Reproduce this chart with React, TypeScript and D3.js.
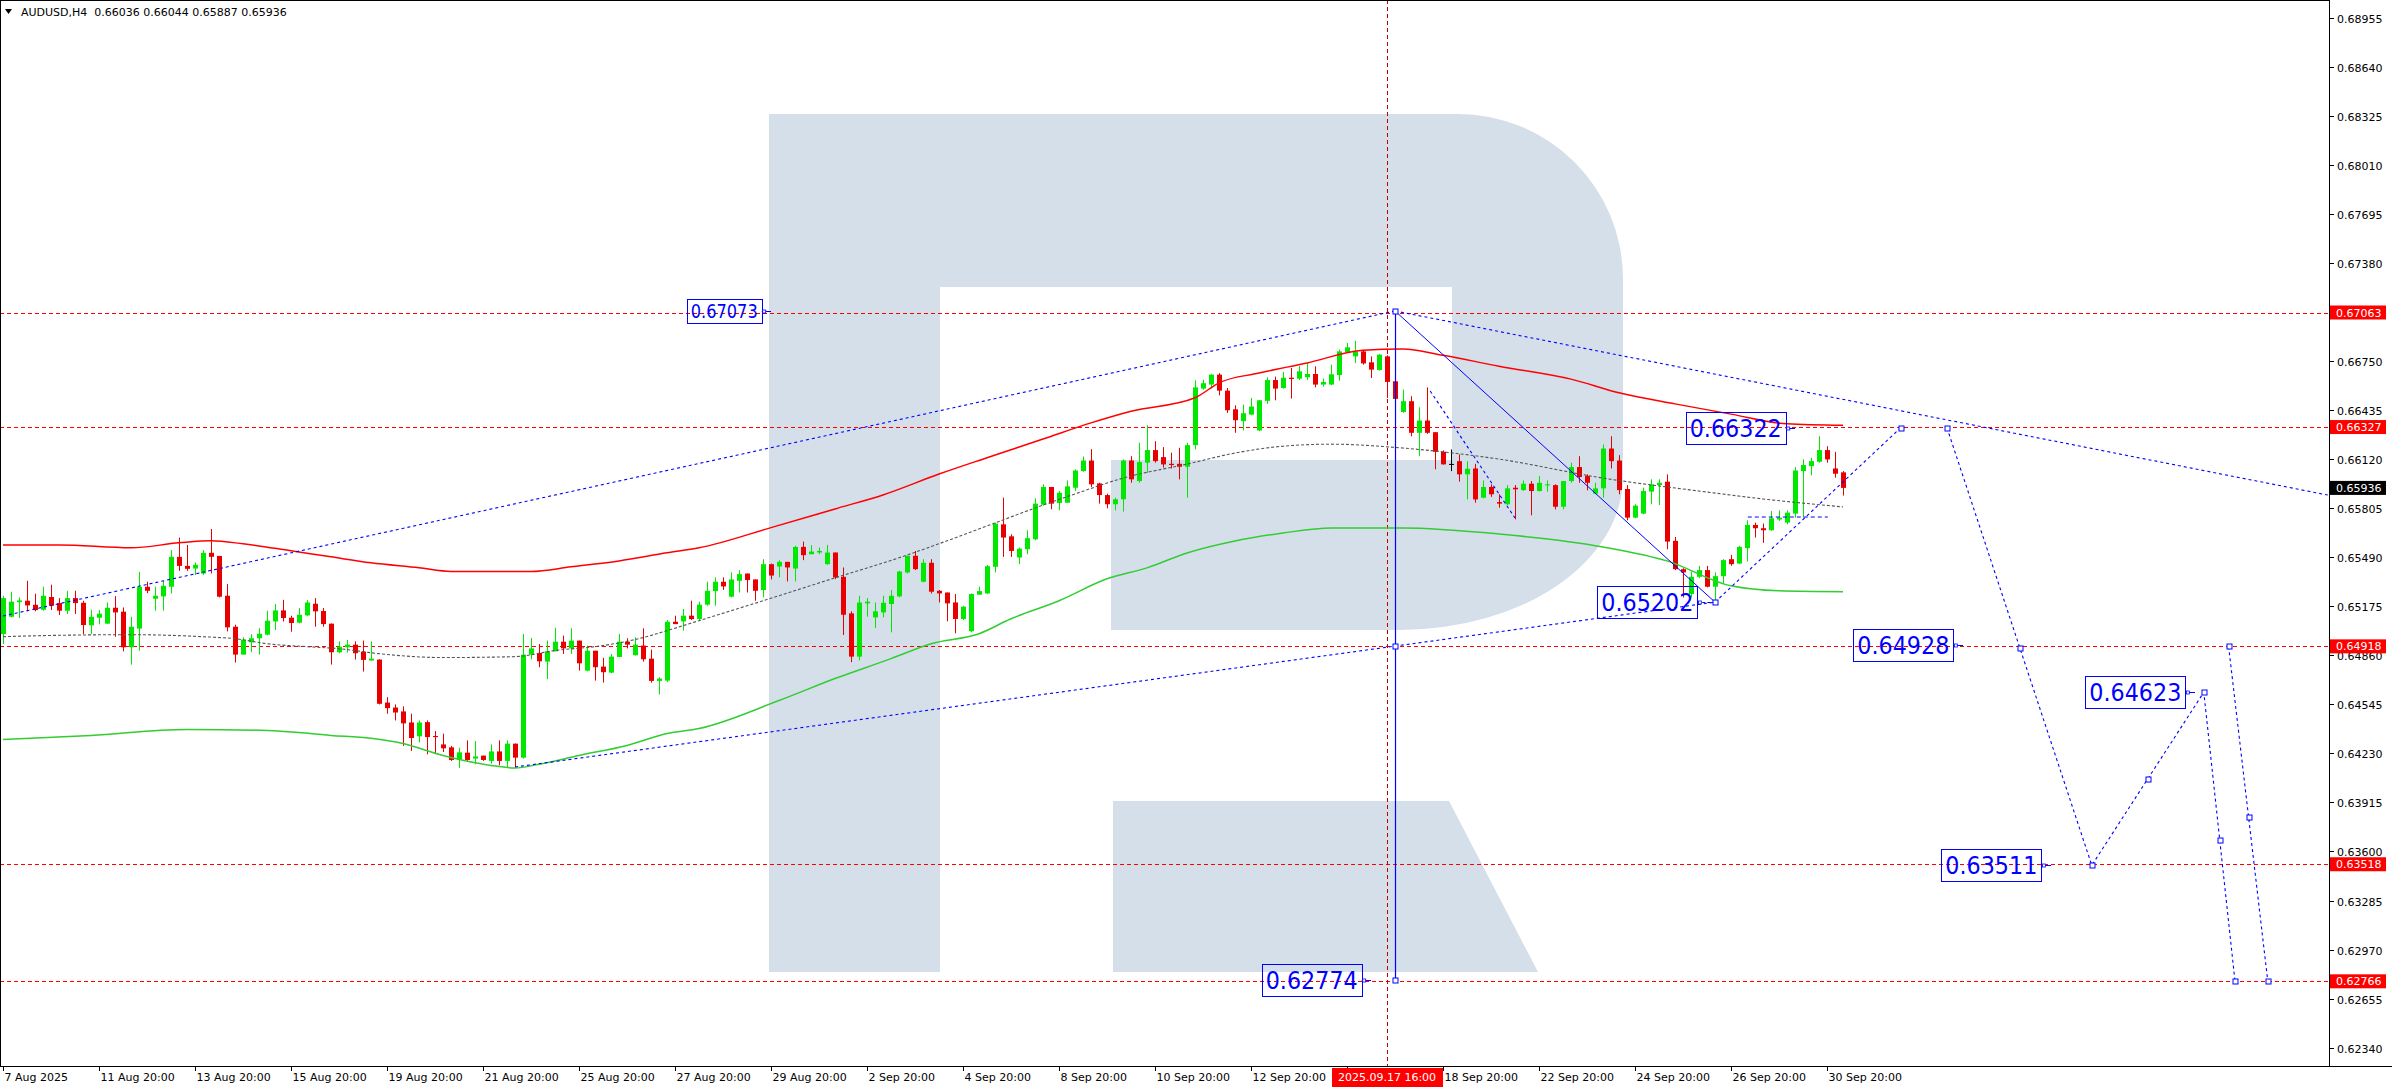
import React from "react";
import * as d3 from "d3";

// ---------- data (AUDUSD H4, bar 0 = 7 Aug 2025 20:00) ----------
const opens = [
  0.64997,0.65108,0.65202,0.65211,0.65185,0.65153,0.65235,0.65196,0.65147,0.65228,
  0.65198,0.65053,0.65102,0.65064,0.65166,0.65141,0.64912,0.65032,0.65301,0.65224,
  0.65239,0.65301,0.65493,0.65435,0.65418,0.65386,0.65519,0.65499,0.65243,0.65044,
  0.64865,0.64944,0.64970,0.64993,0.65078,0.65149,0.65102,0.65070,0.65117,0.65192,
  0.65145,0.65064,0.64880,0.64912,0.64929,0.64884,0.64827,0.64833,0.64557,0.64525,
  0.64500,0.64429,0.64340,0.64431,0.64342,0.64288,0.64269,0.64188,0.64235,0.64197,
  0.64216,0.64182,0.64243,0.64182,0.64293,0.64203,0.64865,0.64876,0.64820,0.64886,
  0.64948,0.64905,0.64955,0.64762,0.64890,0.64788,0.64749,0.64850,0.64948,0.64861,
  0.64923,0.64839,0.64696,0.64698,0.65076,0.65078,0.65115,0.65094,0.65186,0.65273,
  0.65333,0.65237,0.65339,0.65386,0.65348,0.65280,0.65446,0.65431,0.65461,0.65418,
  0.65557,0.65510,0.65521,0.65446,0.65521,0.65365,0.65130,0.64852,0.65194,0.65104,
  0.65136,0.65190,0.65239,0.65393,0.65500,0.65333,0.65455,0.65275,0.65264,0.65200,
  0.65094,0.65015,0.65250,0.65258,0.65429,0.65702,0.65625,0.65489,0.65542,0.65606,
  0.65828,0.65942,0.65839,0.65841,0.65937,0.66044,0.66112,0.65965,0.65890,0.65831,
  0.65863,0.66112,0.65980,0.66098,0.66179,0.66134,0.66091,0.66091,0.66072,0.66211,
  0.66574,0.66600,0.66664,0.66561,0.66441,0.66365,0.66407,0.66305,0.66495,0.66629,
  0.66578,0.66644,0.66638,0.66647,0.66668,0.66600,0.66600,0.66661,0.66809,0.66781,
  0.66813,0.66743,0.66694,0.66781,0.66621,0.66424,0.66493,0.66290,0.66369,0.66294,
  0.66168,0.66087,0.66108,0.66023,0.66061,0.65873,0.65942,0.65845,0.65831,0.65937,
  0.65922,0.65963,0.65916,0.65952,0.65954,0.65815,0.65980,0.66070,0.66012,0.65899,
  0.65933,0.66189,0.66112,0.65929,0.65745,0.65771,0.65912,0.65954,0.65976,0.65596,
  0.65414,0.65254,0.65365,0.65408,0.65301,0.65369,0.65478,0.65450,0.65549,0.65698,
  0.65677,0.65664,0.65733,0.65713,0.65771,0.66044,0.66076,0.66104,0.66179,0.66061,
  0.66036,
];
const highs = [
  0.65243,0.65269,0.65232,0.65339,0.65256,0.65301,0.65314,0.65228,0.65275,0.65275,
  0.65211,0.65153,0.65151,0.65200,0.65241,0.65168,0.65108,0.65397,0.65333,0.65301,
  0.65339,0.65536,0.65617,0.65570,0.65457,0.65536,0.65672,0.65499,0.65318,0.65057,
  0.64976,0.64997,0.65034,0.65147,0.65190,0.65217,0.65115,0.65164,0.65215,0.65228,
  0.65164,0.65064,0.64950,0.64959,0.64950,0.64955,0.64950,0.64835,0.64592,0.64545,
  0.64532,0.64485,0.64442,0.64442,0.64374,0.64357,0.64278,0.64267,0.64314,0.64310,
  0.64216,0.64288,0.64314,0.64314,0.64293,0.64997,0.64972,0.64933,0.64955,0.65038,
  0.64987,0.65034,0.64955,0.64923,0.64890,0.64844,0.64869,0.64997,0.64970,0.64976,
  0.65034,0.64897,0.64720,0.65087,0.65115,0.65158,0.65211,0.65205,0.65333,0.65361,
  0.65361,0.65393,0.65408,0.65386,0.65348,0.65478,0.65450,0.65472,0.65461,0.65564,
  0.65591,0.65568,0.65553,0.65570,0.65521,0.65425,0.65143,0.65243,0.65228,0.65200,
  0.65243,0.65280,0.65403,0.65500,0.65531,0.65478,0.65478,0.65280,0.65264,0.65254,
  0.65179,0.65258,0.65301,0.65440,0.65713,0.65873,0.65638,0.65553,0.65664,0.65869,
  0.65959,0.65942,0.65916,0.65984,0.66055,0.66138,0.66185,0.65969,0.65899,0.65873,
  0.66119,0.66140,0.66226,0.66339,0.66236,0.66198,0.66162,0.66194,0.66226,0.66627,
  0.66632,0.66668,0.66674,0.66578,0.66467,0.66471,0.66514,0.66501,0.66647,0.66651,
  0.66681,0.66706,0.66719,0.66738,0.66717,0.66638,0.66728,0.66824,0.66867,0.66881,
  0.66824,0.66781,0.66796,0.66788,0.66621,0.66567,0.66525,0.66454,0.66582,0.66294,
  0.66177,0.66183,0.66151,0.66108,0.66091,0.65984,0.65959,0.65895,0.65954,0.65954,
  0.65984,0.65980,0.66012,0.65984,0.65959,0.65980,0.66098,0.66140,0.66023,0.65969,
  0.66215,0.66268,0.66147,0.65954,0.65831,0.65937,0.65991,0.65991,0.66023,0.65621,
  0.65420,0.65399,0.65435,0.65435,0.65393,0.65478,0.65506,0.65564,0.65728,0.65713,
  0.65707,0.65788,0.65792,0.65792,0.66070,0.66119,0.66130,0.66268,0.66204,0.66168,
  0.66044,
];
const lows = [
  0.64933,0.65104,0.65100,0.65147,0.65143,0.65147,0.65151,0.65119,0.65126,0.65126,
  0.64997,0.64997,0.65059,0.65061,0.64980,0.64886,0.64801,0.64890,0.65260,0.65147,
  0.65147,0.65258,0.65403,0.65403,0.65377,0.65377,0.65386,0.65232,0.65014,0.64814,
  0.64865,0.64880,0.64865,0.64989,0.65023,0.65078,0.65012,0.65066,0.65113,0.65044,
  0.65044,0.64801,0.64874,0.64878,0.64833,0.64756,0.64827,0.64545,0.64485,0.64442,
  0.64278,0.64246,0.64301,0.64224,0.64228,0.64239,0.64182,0.64137,0.64182,0.64160,
  0.64182,0.64165,0.64154,0.64137,0.64143,0.64197,0.64835,0.64784,0.64707,0.64886,
  0.64869,0.64869,0.64762,0.64758,0.64698,0.64685,0.64745,0.64848,0.64905,0.64859,
  0.64820,0.64685,0.64609,0.64688,0.65061,0.65019,0.65087,0.65087,0.65179,0.65179,
  0.65280,0.65233,0.65264,0.65264,0.65211,0.65233,0.65348,0.65361,0.65335,0.65335,
  0.65472,0.65510,0.65510,0.65442,0.65350,0.64991,0.64816,0.64827,0.65109,0.65036,
  0.65104,0.65008,0.65233,0.65386,0.65408,0.65329,0.65258,0.65200,0.65079,0.65002,
  0.65087,0.65008,0.65250,0.65254,0.65393,0.65493,0.65493,0.65446,0.65510,0.65600,
  0.65822,0.65799,0.65792,0.65839,0.65916,0.66040,0.65942,0.65835,0.65805,0.65792,
  0.65784,0.65969,0.65969,0.66033,0.66098,0.66066,0.66061,0.65991,0.65873,0.66183,
  0.66567,0.66574,0.66531,0.66418,0.66290,0.66305,0.66403,0.66300,0.66476,0.66499,
  0.66574,0.66510,0.66629,0.66629,0.66582,0.66587,0.66595,0.66625,0.66803,0.66738,
  0.66728,0.66642,0.66689,0.66514,0.66503,0.66418,0.66268,0.66140,0.66283,0.66055,
  0.66087,0.66044,0.65976,0.65862,0.65841,0.65869,0.65878,0.65809,0.65826,0.65734,
  0.65916,0.65760,0.65912,0.65912,0.65798,0.65798,0.65969,0.65969,0.65920,0.65895,
  0.65873,0.66061,0.65895,0.65728,0.65741,0.65767,0.65831,0.65826,0.65542,0.65408,
  0.65232,0.65232,0.65356,0.65297,0.65211,0.65318,0.65435,0.65446,0.65463,0.65617,
  0.65583,0.65660,0.65724,0.65702,0.65745,0.65745,0.66017,0.66098,0.66098,0.66002,
  0.65887,
];
const closes = [
  0.65228,0.65205,0.65213,0.65181,0.65151,0.65243,0.65179,0.65147,0.65228,0.65196,
  0.65055,0.65108,0.65128,0.65166,0.65136,0.64912,0.65044,0.65301,0.65275,0.65243,
  0.65307,0.65493,0.65435,0.65416,0.65442,0.65519,0.65493,0.65237,0.65040,0.64865,
  0.64961,0.64970,0.64999,0.65083,0.65149,0.65100,0.65068,0.65121,0.65200,0.65143,
  0.65061,0.64880,0.64916,0.64929,0.64874,0.64831,0.64839,0.64549,0.64521,0.64493,
  0.64423,0.64329,0.64429,0.64335,0.64335,0.64263,0.64188,0.64237,0.64188,0.64211,
  0.64188,0.64243,0.64182,0.64293,0.64203,0.64865,0.64905,0.64822,0.64886,0.64948,
  0.64905,0.64955,0.64809,0.64890,0.64784,0.64752,0.64852,0.64948,0.64929,0.64929,
  0.64835,0.64696,0.64711,0.65076,0.65061,0.65115,0.65093,0.65186,0.65275,0.65333,
  0.65303,0.65348,0.65382,0.65344,0.65275,0.65446,0.65373,0.65461,0.65425,0.65557,
  0.65504,0.65527,0.65531,0.65521,0.65361,0.65121,0.64852,0.65200,0.65205,0.65143,
  0.65198,0.65243,0.65399,0.65500,0.65414,0.65455,0.65269,0.65258,0.65194,0.65094,
  0.65173,0.65254,0.65273,0.65433,0.65707,0.65617,0.65531,0.65546,0.65613,0.65835,
  0.65942,0.65835,0.65905,0.65946,0.66048,0.66112,0.65959,0.65890,0.65831,0.65863,
  0.66112,0.65991,0.66102,0.66179,0.66108,0.66087,0.66083,0.66072,0.66211,0.66582,
  0.66609,0.66664,0.66561,0.66435,0.66371,0.66416,0.66459,0.66499,0.66629,0.66574,
  0.66644,0.66636,0.66685,0.66668,0.66600,0.66617,0.66666,0.66813,0.66839,0.66813,
  0.66736,0.66696,0.66792,0.66617,0.66508,0.66493,0.66290,0.66369,0.66290,0.66168,
  0.66087,0.66087,0.66023,0.66059,0.65862,0.65942,0.65895,0.65835,0.65933,0.65927,
  0.65963,0.65916,0.65969,0.65959,0.65815,0.65980,0.66070,0.66006,0.65969,0.65933,
  0.66189,0.66108,0.65922,0.65745,0.65822,0.65916,0.65959,0.65969,0.65591,0.65414,
  0.65393,0.65365,0.65408,0.65301,0.65369,0.65472,0.65446,0.65557,0.65698,0.65677,
  0.65664,0.65741,0.65745,0.65777,0.66048,0.66083,0.66108,0.66179,0.66119,0.66027,
  0.65936,
];

// indicator lines (bar index, value) read at sample bars
const upperBandBars = [0,7,16,22,26,30,36,41,46,52,56,66,71,77,83,87,96,104,110,117,123,130,136,141,149,152,157,163,170,175,180,187,196,202,209,216,223,230];
const upperBandVals = [0.65570,0.65570,0.65551,0.65583,0.65596,0.65577,0.65532,0.65493,0.65455,0.65423,0.65399,0.65399,0.65429,0.65467,0.65519,0.65551,0.65681,0.65801,0.65891,0.66025,0.66130,0.66250,0.66354,0.66429,0.66515,0.66611,0.66674,0.66739,0.66820,0.66829,0.66788,0.66718,0.66635,0.66547,0.66476,0.66410,0.66348,0.66338];
const lowerBandBars = [0,11,23,33,41,46,50,55,61,64,67,72,78,83,87,97,104,111,116,122,126,132,138,143,148,154,160,166,175,187,200,208,216,222,230];
const lowerBandVals = [0.64320,0.64346,0.64384,0.64378,0.64346,0.64328,0.64294,0.64217,0.64153,0.64136,0.64160,0.64217,0.64281,0.64358,0.64390,0.64570,0.64711,0.64839,0.64935,0.64999,0.65095,0.65211,0.65352,0.65422,0.65518,0.65595,0.65646,0.65679,0.65679,0.65640,0.65557,0.65467,0.65307,0.65275,0.65269];
const midLineBars = [0,5,16,25,29,33,38,42,47,55,64,69,75,80,83,87,95,104,112,118,124,129,134,140,148,154,160,166,175,187,200,212,220,230];
const midLineVals = [0.64980,0.64987,0.64993,0.64980,0.64967,0.64935,0.64916,0.64903,0.64871,0.64846,0.64852,0.64891,0.64923,0.64974,0.65019,0.65083,0.65211,0.65358,0.65487,0.65596,0.65711,0.65807,0.65897,0.65999,0.66089,0.66160,0.66204,0.66217,0.66192,0.66121,0.65999,0.65916,0.65865,0.65814];

// axes
const timeTickBars = [0,12,24,36,48,60,72,84,96,108,120,132,144,156,168,180,192,204,216,228];
const timeTickLabels = ["7 Aug 2025","11 Aug 20:00","13 Aug 20:00","15 Aug 20:00","19 Aug 20:00","21 Aug 20:00","25 Aug 20:00","27 Aug 20:00","29 Aug 20:00","2 Sep 20:00","4 Sep 20:00","8 Sep 20:00","10 Sep 20:00","12 Sep 20:00","16 Sep 20:00","18 Sep 20:00","22 Sep 20:00","24 Sep 20:00","26 Sep 20:00","30 Sep 20:00"];
const priceTicks = [0.68955,0.68640,0.68325,0.68010,0.67695,0.67380,0.67065,0.66750,0.66435,0.66120,0.65805,0.65490,0.65175,0.64860,0.64545,0.64230,0.63915,0.63600,0.63285,0.62970,0.62655,0.62340];
const levelPrices = [0.67063, 0.66327, 0.64918, 0.63518, 0.62766];
const lastPrice = 0.65936;
const markerBar = 173;
const markerLabel = "2025.09.17 16:00";
const headerText = "AUDUSD,H4  0.66036 0.66044 0.65887 0.65936";

// analysis objects
const boxTexts = ["0.67073","0.66322","0.65202","0.64928","0.64623","0.63511","0.62774"];
const boxPrices = [0.67073,0.66322,0.65202,0.64928,0.64623,0.63511,0.62774];
const boxRightBars = [94.84,222.84,211.79,243.79,272.79,254.79,169.84];
const boxLinkBars = [96,224,214,245,274,256,171];
const trendFromBars = [0,174,64,178.4];
const trendFromPrices = [0.65113,0.67073,0.64143,0.66559];
const trendToBars = [174,290.6,214,189];
const trendToPrices = [0.67073,0.65890,0.65202,0.65743];
const waveBars = [174,214];
const wavePrices = [0.67073,0.65202];
const pivotBar = 174;
const pivotPrices = [0.67073,0.64918,0.62774];
const forecastBarsA = [214,237.2];
const forecastPricesA = [0.65202,0.66322];
const forecastBarsB = [243,261.1,275.1,279];
const forecastPricesB = [0.66322,0.63511,0.64623,0.62766];
const forecastBarsC = [278.2,283.1];
const forecastPricesC = [0.64918,0.62766];
const forecastMidBars = [252.1,268.1,277.1,280.7];
const rangeBars = [218.1,228.1];
const rangePrice = 0.65749;

const FONT = "'DejaVu Sans', Verdana, sans-serif";
const BULL = "#00e800";
const BEAR = "#e80000";
const BLUE = "#0000ff";

export default function App() {
  const x = d3.scaleLinear().domain([0, 230]).range([3, 1843]);
  const y = d3.scaleLinear().domain([0.67063, 0.62766]).range([312.5, 981.3]);
  const R = 2329, B = 1066;

  const curve = (bars: number[], vals: number[]) =>
    d3.line<number>().x((_, i) => x(bars[i])).y((v) => y(v)).curve(d3.curveMonotoneX)(vals) || "";
  const poly = (bars: number[], vals: number[]) =>
    d3.line<number>().x((_, i) => x(bars[i])).y((v) => y(v))(vals) || "";

  const sq = (cx: number, cy: number, k: string) => (
    <rect key={k} x={Math.round(cx) - 2} y={Math.round(cy) - 2} width={5} height={5} fill="#fff" stroke={BLUE} strokeWidth={1} />
  );

  const logo =
    "M769,114 L1458,114 A165,165 0 0 1 1623,279 L1623,477 A223,153 0 0 1 1400,630 L1111,630 L1111,460 L1452,460 L1452,287 L940,287 L940,972 L769,972 Z " +
    "M1113,801 L1449,801 L1538,972 L1113,972 Z";

  const markerX = x(markerBar);
  const boxL = markerX - 55, boxR = markerX + 56;

  return (
    <svg width={2392} height={1090} style={{ position: "absolute", left: 0, top: 0, background: "#fff" }} fontFamily={FONT}>
      <defs>
        <clipPath id="plotClip"><rect x={1} y={1} width={R - 1} height={B - 1} /></clipPath>
      </defs>
      <rect x={0} y={0} width={2392} height={1090} fill="#fff" />
      <g clipPath="url(#plotClip)">
        <path d={logo} fill="#d5dfea" />
        {levelPrices.map((p, i) => (
          <line key={"lv" + i} x1={0} x2={R} y1={Math.round(y(p)) + 0.5} y2={Math.round(y(p)) + 0.5} stroke="#ff0000" strokeDasharray="4,3" />
        ))}
        <line x1={markerX + 0.5} x2={markerX + 0.5} y1={0} y2={B} stroke="#c00000" strokeDasharray="4,3" />

        {opens.map((o, i) => {
          const c = closes[i];
          const cx = Math.round(x(i));
          const col = c > o ? BULL : c < o ? BEAR : "#000";
          const top = y(Math.max(o, c)), bot = y(Math.min(o, c));
          return (
            <g key={"c" + i}>
              <line x1={cx + 0.5} x2={cx + 0.5} y1={y(highs[i])} y2={y(lows[i])} stroke={col} strokeWidth={1} />
              {c === o ? (
                <line x1={cx - 2} x2={cx + 3} y1={top} y2={top} stroke={col} />
              ) : (
                <rect x={cx - 2} y={top} width={5} height={Math.max(1, bot - top)} fill={col} />
              )}
            </g>
          );
        })}

        <path d={curve(upperBandBars, upperBandVals)} fill="none" stroke="#ff0000" strokeWidth={1.5} />
        <path d={curve(lowerBandBars, lowerBandVals)} fill="none" stroke="#32cd32" strokeWidth={1.5} />
        <path d={curve(midLineBars, midLineVals)} fill="none" stroke="#555555" strokeWidth={1.1} strokeDasharray="3,2" />

        {trendFromBars.map((b, i) => (
          <path key={"t" + i} d={poly([b, trendToBars[i]], [trendFromPrices[i], trendToPrices[i]])} fill="none" stroke={BLUE} strokeWidth={1.1} strokeDasharray="3,3" />
        ))}
        <path d={poly(waveBars, wavePrices)} fill="none" stroke={BLUE} strokeWidth={1} />
        <line x1={x(pivotBar) + 0.5} x2={x(pivotBar) + 0.5} y1={y(pivotPrices[0])} y2={y(pivotPrices[2])} stroke={BLUE} strokeWidth={1.2} />
        <path d={poly(forecastBarsA, forecastPricesA)} fill="none" stroke={BLUE} strokeWidth={1.1} strokeDasharray="3,3" />
        <path d={poly(forecastBarsB, forecastPricesB)} fill="none" stroke={BLUE} strokeWidth={1.1} strokeDasharray="3,3" />
        <path d={poly(forecastBarsC, forecastPricesC)} fill="none" stroke={BLUE} strokeWidth={1.1} strokeDasharray="3,3" />
        <path d={poly(rangeBars, [rangePrice, rangePrice])} fill="none" stroke={BLUE} strokeDasharray="4,3" />

        {boxTexts.map((t, i) => {
          const small = i === 0;
          const w = small ? 75 : 100, h = small ? 24 : 32, fs = small ? 20 : 24;
          const right = x(boxRightBars[i]);
          const cy = y(boxPrices[i]);
          const left = right - w;
          return (
            <g key={"b" + i}>
              <rect x={Math.round(left) + 0.5} y={Math.round(cy - h / 2) + 0.5} width={w} height={h} fill="none" stroke={BLUE} strokeWidth={1} />
              <text x={left + 4} y={cy + fs * 0.365} fontSize={fs} fill={BLUE} textLength={w - 8} lengthAdjust="spacingAndGlyphs">{t}</text>
              <line x1={right} x2={x(boxLinkBars[i])} y1={Math.round(cy) + 0.5} y2={Math.round(cy) + 0.5} stroke={BLUE} strokeDasharray={i === 2 ? "3,2" : undefined} />
              <rect x={right + 1} y={Math.round(cy) - 1} width={3} height={3} fill="#fff" stroke={BLUE} strokeWidth={0.8} />
            </g>
          );
        })}

        {pivotPrices.map((p, i) => sq(x(pivotBar), y(p), "pv" + i))}
        {sq(x(214), y(0.65202), "lowsq")}
        {forecastBarsA.map((b, i) => i > 0 && sq(x(b), y(forecastPricesA[i]), "fa" + i))}
        {forecastBarsB.map((b, i) => sq(x(b), y(forecastPricesB[i]), "fb" + i))}
        {forecastBarsC.map((b, i) => sq(x(b), y(forecastPricesC[i]), "fc" + i))}
        {forecastMidBars.map((b, i) => {
          if (i === 3) {
            const t = (b - forecastBarsC[0]) / (forecastBarsC[1] - forecastBarsC[0]);
            return sq(x(b), y(forecastPricesC[0] + t * (forecastPricesC[1] - forecastPricesC[0])), "fm" + i);
          }
          const b0 = forecastBarsB[i], b1 = forecastBarsB[i + 1];
          const p0 = forecastPricesB[i], p1 = forecastPricesB[i + 1];
          const t = (b - b0) / (b1 - b0);
          return sq(x(b), y(p0 + t * (p1 - p0)), "fm" + i);
        })}
      </g>

      {/* frame */}
      <line x1={0.5} x2={0.5} y1={0} y2={B} stroke="#000" />
      <line x1={0} x2={R} y1={0.5} y2={0.5} stroke="#000" />
      <line x1={R + 0.5} x2={R + 0.5} y1={0} y2={B} stroke="#000" />
      <line x1={0} x2={2392} y1={B + 0.5} y2={B + 0.5} stroke="#000" />

      {/* price axis */}
      {priceTicks.map((p, i) => {
        const yy = Math.round(y(p)) + 0.5;
        const hidden = levelPrices.some((lp) => Math.abs(y(lp) - yy) < 3);
        return (
          <g key={"pt" + i}>
            <line x1={R} x2={R + 5} y1={yy} y2={yy} stroke="#000" />
            {!hidden && <text x={R + 8} y={yy + 4} fontSize={11} fill="#000">{p.toFixed(5)}</text>}
          </g>
        );
      })}
      {levelPrices.map((p, i) => {
        const yy = y(p);
        return (
          <g key={"lp" + i}>
            <rect x={R + 1} y={yy - 7} width={56} height={14} fill="#ff0000" />
            <text x={R + 7} y={yy + 4} fontSize={11} fill="#fff">{p.toFixed(5)}</text>
          </g>
        );
      })}
      <rect x={R + 1} y={y(lastPrice) - 7} width={56} height={14} fill="#000" />
      <text x={R + 7} y={y(lastPrice) + 4} fontSize={11} fill="#fff">{lastPrice.toFixed(5)}</text>

      {/* time axis */}
      {timeTickBars.map((b, i) => {
        const xx = Math.round(x(b)) + 0.5;
        const covered = xx + 70 > boxL && xx < boxR;
        return (
          <g key={"tt" + i}>
            <line x1={xx} x2={xx} y1={B} y2={B + 5} stroke="#000" />
            {!covered && <text x={xx + 1} y={B + 15} fontSize={11} fill="#000">{timeTickLabels[i]}</text>}
          </g>
        );
      })}
      <rect x={boxL} y={B + 2} width={boxR - boxL} height={19} fill="#ff0000" />
      <text x={markerX} y={B + 15} fontSize={11} fill="#fff" textAnchor="middle">{markerLabel}</text>

      {/* header */}
      <path d="M5,9 L12,9 L8.5,14 Z" fill="#000" />
      <text x={21} y={16} fontSize={11} fill="#000" style={{ whiteSpace: "pre" }}>{headerText}</text>
    </svg>
  );
}
